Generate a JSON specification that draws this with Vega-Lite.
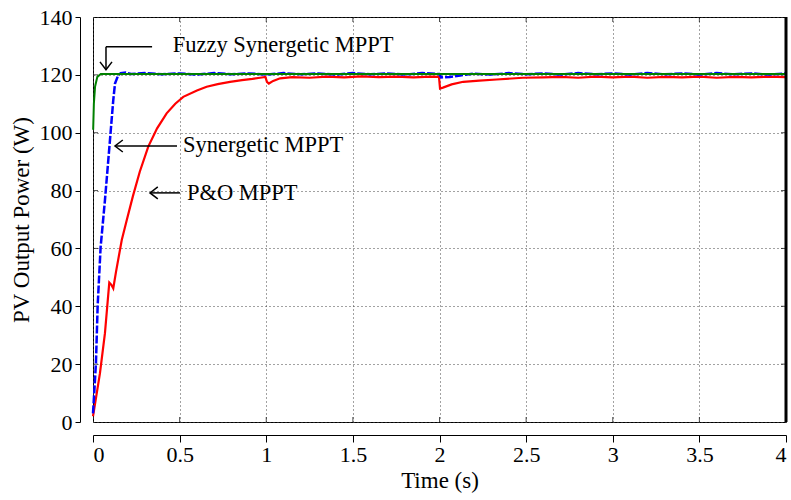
{
  "$schema": "https://vega.github.io/schema/vega-lite/v6.json",
  "width": 693,
  "height": 405,
  "autosize": "none",
  "padding": {"left": 93, "top": 17, "right": 5, "bottom": 78},
  "background": "white",
  "config": {
    "view": {"stroke": "black", "strokeWidth": 1},
    "axis": {
      "labelFont": "Liberation Serif",
      "titleFont": "Liberation Serif",
      "labelFontSize": 22,
      "titleFontSize": 23,
      "titleFontWeight": "normal",
      "labelColor": "black",
      "titleColor": "black",
      "tickColor": "black",
      "domainColor": "black"
    }
  },
  "datasets": {
    "red": [
      {"t": 0, "p": 2}, {"t": 0.006, "p": 4.1}, {"t": 0.04, "p": 16.8}, {"t": 0.069, "p": 30.7},
      {"t": 0.094, "p": 48.2}, {"t": 0.105, "p": 47.5}, {"t": 0.117, "p": 46.2}, {"t": 0.133, "p": 52},
      {"t": 0.166, "p": 62.9}, {"t": 0.195, "p": 69.8}, {"t": 0.23, "p": 78}, {"t": 0.27, "p": 86.5},
      {"t": 0.319, "p": 95.2}, {"t": 0.37, "p": 101.5}, {"t": 0.425, "p": 106.7}, {"t": 0.475, "p": 110},
      {"t": 0.521, "p": 112.4}, {"t": 0.6, "p": 114.6}, {"t": 0.656, "p": 115.9}, {"t": 0.72, "p": 116.8},
      {"t": 0.791, "p": 117.6}, {"t": 0.86, "p": 118.2}, {"t": 0.92, "p": 118.6}, {"t": 0.964, "p": 119.0},
      {"t": 0.995, "p": 119.3}, {"t": 1.004, "p": 117.6}, {"t": 1.015, "p": 117.0}, {"t": 1.04, "p": 117.9},
      {"t": 1.08, "p": 118.8}, {"t": 1.15, "p": 119.2}, {"t": 1.25, "p": 119.0}, {"t": 1.35, "p": 119.4},
      {"t": 1.45, "p": 119.1}, {"t": 1.55, "p": 119.5}, {"t": 1.65, "p": 119.2}, {"t": 1.75, "p": 119.4},
      {"t": 1.85, "p": 119.1}, {"t": 1.95, "p": 119.4}, {"t": 1.997, "p": 119.3}, {"t": 2.003, "p": 115.3},
      {"t": 2.02, "p": 115.6}, {"t": 2.07, "p": 116.7}, {"t": 2.137, "p": 117.6}, {"t": 2.23, "p": 118.0},
      {"t": 2.33, "p": 118.4}, {"t": 2.48, "p": 119.0}, {"t": 2.6, "p": 119.1}, {"t": 2.7, "p": 119.3},
      {"t": 2.8, "p": 119.0}, {"t": 2.9, "p": 119.4}, {"t": 3.0, "p": 119.1}, {"t": 3.1, "p": 119.4},
      {"t": 3.2, "p": 119.0}, {"t": 3.3, "p": 119.3}, {"t": 3.4, "p": 119.1}, {"t": 3.5, "p": 119.4},
      {"t": 3.6, "p": 119.0}, {"t": 3.7, "p": 119.3}, {"t": 3.8, "p": 119.1}, {"t": 3.9, "p": 119.4},
      {"t": 4.0, "p": 119.2}
    ],
    "blue": [
      {"t": 0, "p": 3}, {"t": 0.009, "p": 12}, {"t": 0.017, "p": 20.4}, {"t": 0.027, "p": 40.4},
      {"t": 0.044, "p": 60.5}, {"t": 0.069, "p": 76.7}, {"t": 0.098, "p": 97.5}, {"t": 0.117, "p": 111.3},
      {"t": 0.127, "p": 117}, {"t": 0.145, "p": 119.8}, {"t": 0.16, "p": 120.6}, {"t": 0.19, "p": 120.8},
      {"t": 0.22, "p": 120.3}, {"t": 0.3, "p": 120.6}, {"t": 0.4, "p": 120.2}, {"t": 0.5, "p": 120.5},
      {"t": 0.6, "p": 120.1}, {"t": 0.7, "p": 120.6}, {"t": 0.8, "p": 120.2}, {"t": 0.9, "p": 120.5},
      {"t": 1.0, "p": 120.1}, {"t": 1.1, "p": 120.6}, {"t": 1.2, "p": 120.2}, {"t": 1.3, "p": 120.5},
      {"t": 1.4, "p": 120.1}, {"t": 1.5, "p": 120.6}, {"t": 1.6, "p": 120.2}, {"t": 1.7, "p": 120.5},
      {"t": 1.8, "p": 120.1}, {"t": 1.9, "p": 120.6}, {"t": 1.998, "p": 120.3}, {"t": 2.01, "p": 119.1},
      {"t": 2.06, "p": 119.3}, {"t": 2.12, "p": 119.8}, {"t": 2.2, "p": 120.4}, {"t": 2.3, "p": 120.1},
      {"t": 2.4, "p": 120.6}, {"t": 2.5, "p": 120.2}, {"t": 2.6, "p": 120.5}, {"t": 2.7, "p": 120.1},
      {"t": 2.8, "p": 120.6}, {"t": 2.9, "p": 120.2}, {"t": 3.0, "p": 120.5}, {"t": 3.1, "p": 120.1},
      {"t": 3.2, "p": 120.6}, {"t": 3.3, "p": 120.2}, {"t": 3.4, "p": 120.5}, {"t": 3.5, "p": 120.1},
      {"t": 3.6, "p": 120.6}, {"t": 3.7, "p": 120.2}, {"t": 3.8, "p": 120.5}, {"t": 3.9, "p": 120.1},
      {"t": 4.0, "p": 120.5}
    ],
    "green": [
      {"t": 0.001, "p": 101}, {"t": 0.005, "p": 110}, {"t": 0.012, "p": 116}, {"t": 0.025, "p": 119.3},
      {"t": 0.045, "p": 120.3}, {"t": 1.0, "p": 120.3}, {"t": 2.0, "p": 120.3}, {"t": 3.0, "p": 120.3},
      {"t": 4.0, "p": 120.3}
    ],
    "xticks": [{"t": 0.5}, {"t": 1}, {"t": 1.5}, {"t": 2}, {"t": 2.5}, {"t": 3}, {"t": 3.5}],
    "yticks": [{"p": 20}, {"p": 40}, {"p": 60}, {"p": 80}, {"p": 100}, {"p": 120}],
    "edge": [{"t": 4}],
    "labels": [
      {"t": 0.46, "p": 130.2, "label": "Fuzzy Synergetic MPPT"},
      {"t": 0.52, "p": 95.8, "label": "Synergetic MPPT"},
      {"t": 0.542, "p": 79.3, "label": "P&O MPPT"}
    ],
    "arrows": [
      {"t": 0.341, "p": 129.7, "t2": 0.075, "p2": 129.7},
      {"t": 0.075, "p": 129.7, "t2": 0.075, "p2": 121.8},
      {"t": 0.485, "p": 95.4, "t2": 0.127, "p2": 95.4},
      {"t": 0.502, "p": 79.2, "t2": 0.329, "p2": 79.2}
    ],
    "headsDown": [{"t": 0.075, "p": 121.8}],
    "headsLeft": [{"t": 0.127, "p": 95.4}, {"t": 0.329, "p": 79.2}]
  },
  "layer": [
    {
      "data": {"name": "red"},
      "mark": {"type": "line", "color": "#ff0000", "strokeWidth": 2.2},
      "encoding": {
        "x": {"field": "t", "type": "quantitative", "scale": {"domain": [0, 4], "nice": false},
          "axis": {"orient": "bottom", "offset": 13, "values": [0, 0.5, 1, 1.5, 2, 2.5, 3, 3.5, 4], "format": "~g",
            "tickSize": 7, "labelPadding": 2, "titlePadding": 4, "title": "Time (s)",
            "grid": true, "gridDash": [1, 3], "gridColor": "#444", "gridOpacity": 1, "gridWidth": 1}},
        "y": {"field": "p", "type": "quantitative", "scale": {"domain": [0, 140], "nice": false},
          "axis": {"orient": "left", "offset": 13, "values": [0, 20, 40, 60, 80, 100, 120, 140],
            "tickSize": 5, "labelPadding": 3, "titlePadding": 6, "title": "PV Output Power (W)",
            "grid": true, "gridDash": [1, 3], "gridColor": "#444", "gridOpacity": 1, "gridWidth": 1}}
      }
    },
    {
      "data": {"name": "xticks"},
      "mark": {"type": "tick", "orient": "vertical", "color": "black", "size": 5, "thickness": 1, "yOffset": -2.5},
      "encoding": {
        "x": {"field": "t", "type": "quantitative"},
        "y": {"datum": 0, "type": "quantitative"}
      }
    },
    {
      "data": {"name": "xticks"},
      "mark": {"type": "tick", "orient": "vertical", "color": "black", "size": 5, "thickness": 1, "yOffset": 2.5},
      "encoding": {
        "x": {"field": "t", "type": "quantitative"},
        "y": {"datum": 140, "type": "quantitative"}
      }
    },
    {
      "data": {"name": "yticks"},
      "mark": {"type": "tick", "orient": "horizontal", "color": "black", "size": 5, "thickness": 1, "xOffset": 2.5},
      "encoding": {
        "y": {"field": "p", "type": "quantitative"},
        "x": {"datum": 0, "type": "quantitative"}
      }
    },
    {
      "data": {"name": "yticks"},
      "mark": {"type": "tick", "orient": "horizontal", "color": "black", "size": 5, "thickness": 1, "xOffset": -2.5},
      "encoding": {
        "y": {"field": "p", "type": "quantitative"},
        "x": {"datum": 4, "type": "quantitative"}
      }
    },
    {
      "data": {"name": "blue"},
      "mark": {"type": "line", "color": "#0000ff", "strokeWidth": 2.5, "strokeDash": [8, 2]},
      "encoding": {
        "x": {"field": "t", "type": "quantitative"},
        "y": {"field": "p", "type": "quantitative"}
      }
    },
    {
      "data": {"name": "green"},
      "mark": {"type": "line", "color": "#008000", "strokeWidth": 2},
      "encoding": {
        "x": {"field": "t", "type": "quantitative"},
        "y": {"field": "p", "type": "quantitative"}
      }
    },
    {
      "data": {"name": "edge"},
      "mark": {"type": "rule", "color": "black", "strokeWidth": 3},
      "encoding": {
        "x": {"field": "t", "type": "quantitative"}
      }
    },
    {
      "data": {"name": "labels"},
      "mark": {"type": "text", "align": "left", "baseline": "middle", "font": "Liberation Serif", "fontSize": 22.5, "color": "black"},
      "encoding": {
        "x": {"field": "t", "type": "quantitative"},
        "y": {"field": "p", "type": "quantitative"},
        "text": {"field": "label"}
      }
    },
    {
      "data": {"name": "arrows"},
      "mark": {"type": "rule", "color": "black", "strokeWidth": 1.5},
      "encoding": {
        "x": {"field": "t", "type": "quantitative"},
        "y": {"field": "p", "type": "quantitative"},
        "x2": {"field": "t2"},
        "y2": {"field": "p2"}
      }
    },
    {
      "data": {"name": "headsDown"},
      "mark": {"type": "point", "shape": "M-1,-1.3L0,0L1,-1.3", "filled": false, "stroke": "black", "strokeWidth": 1.5, "size": 144, "opacity": 1},
      "encoding": {
        "x": {"field": "t", "type": "quantitative"},
        "y": {"field": "p", "type": "quantitative"}
      }
    },
    {
      "data": {"name": "headsLeft"},
      "mark": {"type": "point", "shape": "M1.3,-1L0,0L1.3,1", "filled": false, "stroke": "black", "strokeWidth": 1.5, "size": 144, "opacity": 1},
      "encoding": {
        "x": {"field": "t", "type": "quantitative"},
        "y": {"field": "p", "type": "quantitative"}
      }
    }
  ]
}
